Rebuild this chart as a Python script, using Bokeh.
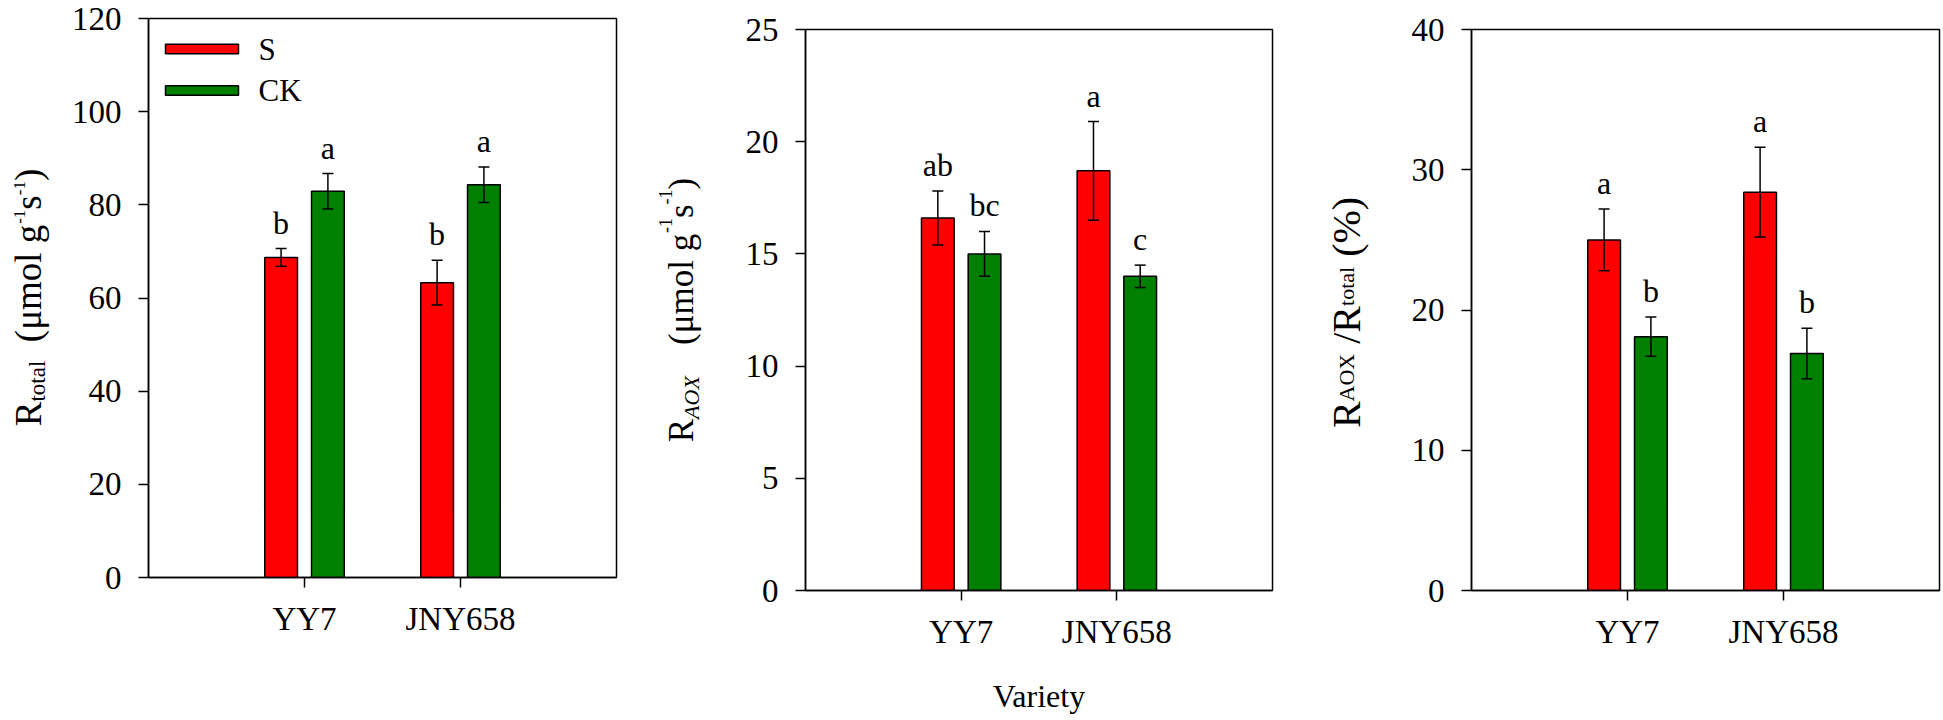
import numpy as np
from bokeh.plotting import figure
from bokeh.models import ColumnDataSource, FixedTicker, Whisker, TeeHead, Range1d
from bokeh.embed import file_html
from bokeh.resources import INLINE
from bokeh.core.properties import value

# ---------------- data ----------------
varieties = ["YY7", "JNY658"]
treatments = ["S", "CK"]
colors = ["#ff0000", "#008000"]

rtotal_s = [68.7, 63.3]
rtotal_s_err = [1.9, 4.8]
rtotal_ck = [82.9, 84.3]
rtotal_ck_err = [3.8, 3.8]
rtotal_s_letters = ["b", "b"]
rtotal_ck_letters = ["a", "a"]

raox_s = [16.6, 18.7]
raox_s_err = [1.2, 2.2]
raox_ck = [15.0, 14.0]
raox_ck_err = [1.0, 0.5]
raox_s_letters = ["ab", "a"]
raox_ck_letters = ["bc", "c"]

ratio_s = [25.0, 28.4]
ratio_s_err = [2.2, 3.2]
ratio_ck = [18.1, 16.9]
ratio_ck_err = [1.4, 1.8]
ratio_s_letters = ["a", "a"]
ratio_ck_letters = ["b", "b"]

x_label = "Variety"

# ---------------- styling helpers ----------------
FONT = "Liberation Serif"
TICK_FS = "33px"
H = 720
W = {' ': 250, '(': 333, ')': 333, 'μ': 560, 'm': 778, 'o': 500, 'l': 278, 'g': 500,
     's': 389, '-': 333, '1': 500, 'R': 667, 't': 278, 'a': 444, 'A': 722, 'O': 722,
     'X': 722, '/': 278, '%': 833}


def text_px(s, size):
    return sum(W.get(c, 500) for c in s) * size / 1000.0


def label_strip(width, pieces, baseline_x, center_page_y):
    p = figure(width=width, height=H, x_range=Range1d(0, width), y_range=Range1d(0, H),
               output_backend="svg", toolbar_location=None,
               x_axis_location=None, y_axis_location=None,
               min_border=0, min_border_left=0, min_border_right=0,
               min_border_top=0, min_border_bottom=0)
    p.grid.visible = False
    p.outline_line_color = None
    p.background_fill_color = "white"
    p.border_fill_color = "white"
    total = sum(text_px(t, sz) for t, sz, sh, st in pieces)
    s = (H - center_page_y) - total / 2.0
    for t, sz, sh, st in pieces:
        lead = len(t) - len(t.lstrip(' '))
        s += text_px(' ' * lead, sz)
        t2 = t.lstrip(' ')
        p.text(x=[baseline_x + sh], y=[s], text=[t2], angle=np.pi / 2,
               text_align="left", text_baseline="alphabetic",
               text_font=value(FONT), text_font_size=f"{sz}px",
               text_font_style=st, text_color="black")
        s += text_px(t2, sz)
    return p


def make_panel(b_left, frame_w, b_right, b_top, frame_h, ymax, ystep,
               s_vals, s_err, ck_vals, ck_err, s_let, ck_let,
               xlabel=None, legend=False):
    width = b_left + frame_w + b_right
    b_bottom = H - b_top - frame_h
    xr = (0, 3)
    yr = (0, ymax)
    ppx = frame_w / (xr[1] - xr[0])
    ppy = frame_h / (yr[1] - yr[0])
    p = figure(width=width, height=H, x_range=Range1d(*xr), y_range=Range1d(*yr),
               output_backend="svg", toolbar_location=None,
               min_border_left=b_left, min_border_right=b_right,
               min_border_top=b_top, min_border_bottom=b_bottom)
    p.grid.visible = False
    p.background_fill_color = "white"
    p.border_fill_color = "white"
    p.outline_line_color = "black"
    p.outline_line_width = 1.5

    pos = [i + 1 for i in range(len(varieties))]
    off = 0.15
    bw = 0.21
    xs = [x - off for x in pos]
    xc = [x + off for x in pos]

    p.vbar(x=xs, top=s_vals, width=bw, fill_color=colors[0], line_color="black", line_width=1.5)
    p.vbar(x=xc, top=ck_vals, width=bw, fill_color=colors[1], line_color="black", line_width=1.5)

    allx = xs + xc
    allv = list(s_vals) + list(ck_vals)
    alle = list(s_err) + list(ck_err)
    upper = [v + e for v, e in zip(allv, alle)]
    src = ColumnDataSource(dict(x=allx, upper=upper,
                                lower=[v - e for v, e in zip(allv, alle)],
                                ly=[u + 26.0 / ppy for u in upper],
                                lab=list(s_let) + list(ck_let)))
    wh = Whisker(base="x", upper="upper", lower="lower", source=src, level="overlay",
                 line_color="black", line_width=1.5,
                 upper_head=TeeHead(size=11, line_width=1.5, line_color="black"),
                 lower_head=TeeHead(size=11, line_width=1.5, line_color="black"))
    p.add_layout(wh)
    p.text(x="x", y="ly", text="lab", source=src, text_align="center",
           text_baseline="alphabetic", text_font=value(FONT),
           text_font_size="32px", text_color="black")

    for ax in (p.xaxis[0], p.yaxis[0]):
        ax.axis_line_color = "black"
        ax.axis_line_width = 1.5
        ax.major_tick_line_color = "black"
        ax.major_tick_line_width = 1.5
        ax.major_tick_out = 10
        ax.major_tick_in = 0
        ax.minor_tick_line_color = None
        ax.major_label_text_font = FONT
        ax.major_label_text_font_size = TICK_FS
        ax.major_label_text_color = "black"
    p.xaxis.ticker = FixedTicker(ticks=pos)
    p.xaxis.major_label_overrides = {x: v for x, v in zip(pos, varieties)}
    p.xaxis.major_label_standoff = 13
    p.yaxis.ticker = FixedTicker(ticks=list(np.arange(0, ymax + ystep / 2, ystep)))
    p.yaxis.major_label_standoff = 17
    if xlabel:
        p.xaxis.axis_label = xlabel
        p.xaxis.axis_label_text_font = FONT
        p.xaxis.axis_label_text_font_size = "32px"
        p.xaxis.axis_label_text_font_style = "normal"
        p.xaxis.axis_label_text_color = "black"
        p.xaxis.axis_label_standoff = 25

    if legend:
        # legend swatches + labels, placed in pixel offsets from the frame's top-left
        def dx(px):
            return xr[0] + px / ppx

        def dy(px):
            return yr[1] - px / ppy
        sw_left, sw_right = 17, 90
        rows = [30.5, 72.0]
        for (cy, col, name) in zip(rows, colors, treatments):
            p.quad(left=[dx(sw_left)], right=[dx(sw_right)],
                   bottom=[dy(cy + 4.7)], top=[dy(cy - 4.7)],
                   fill_color=col, line_color="black", line_width=1.5)
            p.text(x=[dx(110)], y=[dy(cy)], text=[name], text_align="left",
                   text_baseline="middle", text_font=value(FONT),
                   text_font_size="31px", text_color="black")
    return p


strip1 = label_strip(60,
                     [("R", 37, 0, "normal"), ("total", 23, 9, "normal"),
                      ("  (μmol g", 37, 0, "normal"), ("-1", 17, -9, "normal"),
                      ("s", 37, 0, "normal"), ("-1", 17, -9, "normal"), (")", 37, 0, "normal")],
                     27.5, 297.0)
p1 = make_panel(88, 468, 20, 18, 559, 120, 20,
                rtotal_s, rtotal_s_err, rtotal_ck, rtotal_ck_err,
                rtotal_s_letters, rtotal_ck_letters, legend=True)
strip2 = label_strip(84,
                     [("R", 35, 0, "normal"), ("AOX", 22, 10, "italic"),
                      ("   (μmol g", 35, 0, "normal"), ("-1", 18, -16, "normal"),
                      ("s", 35, 0, "normal"), ("-1", 18, -16, "normal"), (")", 35, 0, "normal")],
                     45, 309.5)
p2 = make_panel(85, 467, 20, 29, 561, 25, 5,
                raox_s, raox_s_err, raox_ck, raox_ck_err,
                raox_s_letters, raox_ck_letters, xlabel=x_label)
strip3 = label_strip(88,
                     [("R", 40, 0, "normal"), ("AOX", 22, 0, "normal"),
                      (" /R", 40, 0, "normal"), ("total", 22, 0, "normal"),
                      (" (%)", 40, 0, "normal")],
                     54, 312.0)
p3 = make_panel(91, 468, 2, 29, 561, 40, 10,
                ratio_s, ratio_s_err, ratio_ck, ratio_ck_err,
                ratio_s_letters, ratio_ck_letters)

TEMPLATE = """
{% block contents %}
{% from macros import embed %}
<div style="display:flex;flex-direction:row;align-items:flex-start;gap:0;margin:0;padding:0;">
{% for doc in docs %}{% for root in doc.roots %}{{ embed(root) }}{% endfor %}{% endfor %}
</div>
{% endblock %}
"""

models = [strip1, p1, strip2, p2, strip3, p3]
open("out.html", "w").write(file_html(models, INLINE, template=TEMPLATE))
